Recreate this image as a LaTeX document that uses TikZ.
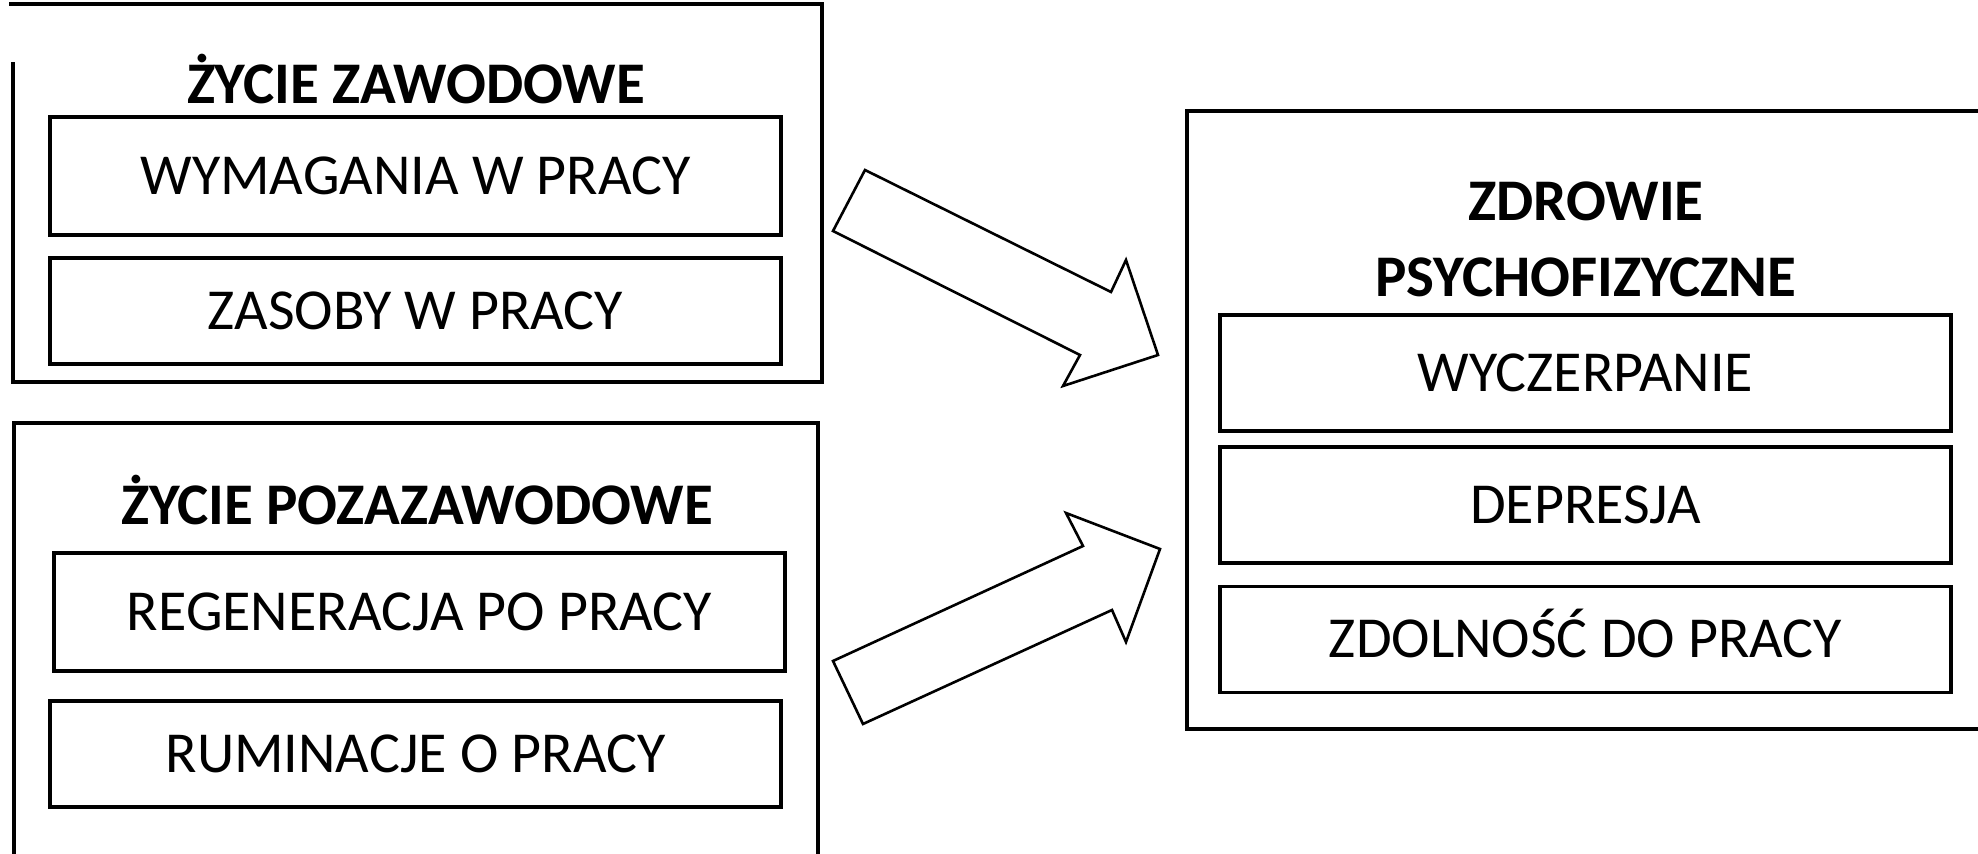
\documentclass[tikz,border=0pt]{standalone}
\usepackage{fontspec}
\setmainfont{Carlito}
\usepackage{tikz}
\usetikzlibrary{
    positioning,
    fit
}
\tikzset{
    ramka/.style={inner sep=0pt, line width=1.9pt},
    pole/.style={draw, line width=1.9pt, inner sep=0pt,
        minimum width=365.5pt, text height=18.3pt, text depth=0pt,
        font=\fontsize{29pt}{34pt}\selectfont},
    tytul/.style={anchor=base, inner sep=0pt,
        font=\fontsize{29.5pt}{35pt}\selectfont\bfseries},
    strzalka/.style={draw, line width=1.3pt, line join=miter, fill=white}
}

\begin{document}
\begin{tikzpicture}[x=0.5pt, y=-0.5pt]

    \clip (0,0) rectangle (1978,854);
    \fill[white] (0,0) rectangle (1978,854);

    % zycie zawodowe
    \node[ramka, fit={(15,6) (820,380)}] (zawodowe) {};
    \draw[ramka] ([yshift=-29pt]zawodowe.north west) -- (zawodowe.south west)
        -- (zawodowe.south east) -- (zawodowe.north east) -- ([xshift=-2pt]zawodowe.north west);
    \node[tytul] (tZawodowe) at (416,104) {ŻYCIE ZAWODOWE};
    \node[pole, minimum height=59pt] (wymagania) at (415.5,176) {WYMAGANIA W PRACY};
    \node[pole, minimum height=53pt, below=9.5pt of wymagania] (zasoby) {ZASOBY W PRACY};

    % zycie pozazawodowe
    \node[ramka, draw, fit={(14,423) (818,880)}] (pozazawodowe) {};
    \node[tytul] (tPozazawodowe) at (417,525) {ŻYCIE POZAZAWODOWE};
    \node[pole, minimum height=59pt] (regeneracja) at (419.5,612) {REGENERACJA PO PRACY};
    \node[pole, minimum height=53pt] (ruminacje) at (415.5,754) {RUMINACJE O PRACY};

    % zdrowie
    \node[ramka, draw, fit={(1187,111) (2000,729)}] (zdrowie) {};
    \node[tytul] (tZdrowie) at (1586,221) {ZDROWIE};
    \node[tytul] (tPsycho) at (1586,297) {PSYCHOFIZYCZNE};
    \node[pole, minimum height=58pt] (wyczerpanie) at (1585.5,373) {WYCZERPANIE};
    \node[pole, minimum height=58pt, below=6pt of wyczerpanie] (depresja) {DEPRESJA};
    \node[pole, minimum height=53pt, below=10pt of depresja] (zdolnosc) {ZDOLNOŚĆ DO PRACY};

    % strzalki blokowe
    \draw[strzalka] (865,170) -- (1111,292) -- (1126,260) -- (1158,355)
        -- (1063,386) -- (1080,355) -- (833,231) -- cycle;
    \draw[strzalka] (833,661) -- (1083,546) -- (1066,513) -- (1160,549)
        -- (1126,642) -- (1112,610) -- (863,724) -- cycle;

\end{tikzpicture}
\end{document}
